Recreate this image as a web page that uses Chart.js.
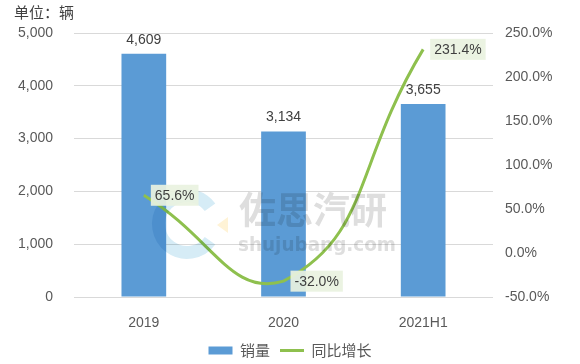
<!DOCTYPE html>
<html lang="zh">
<head>
  <meta charset="UTF-8">
  <title>销量与同比增长</title>
  <style>
    html, body { margin: 0; padding: 0; background: #fff; }
    #wrap { width: 580px; height: 364px; position: relative; }
  </style>
</head>
<body>
  <div id="wrap"><canvas id="chart"></canvas></div>

  <script src="https://cdn.jsdelivr.net/npm/chart.js"></script>
  <script>
    const categories = ['2019', '2020', '2021H1'];
    const sales = [4609, 3134, 3655];
    const growth = [65.6, -32.0, 231.4];
    const leftTicks = [0, 1000, 2000, 3000, 4000, 5000];
    const rightTicks = [-50, 0, 50, 100, 150, 200, 250];

    const fontLatin = '"Liberation Sans", Arial, "Noto Sans CJK SC", sans-serif';
    const fontCJK = '"Noto Sans CJK SC", "Liberation Sans", sans-serif';
    const textColor = '#595959';
    const barColor = '#5B9BD5';
    const lineColor = '#8EC04E';

    // faint watermark, blended over the marks
    const watermark = {
      id: 'watermark',
      afterDatasetsDraw(chart) {
        const ctx = chart.ctx;
        ctx.save();
        ctx.globalCompositeOperation = 'multiply';
        ctx.strokeStyle = '#D6ECF6';
        ctx.lineWidth = 13;
        ctx.beginPath();
        ctx.arc(187, 224, 28.5, 0.2 * Math.PI, 1.8 * Math.PI);
        ctx.stroke();
        ctx.fillStyle = '#FFF3D6';
        ctx.beginPath();
        ctx.moveTo(217, 225); ctx.lineTo(228, 217); ctx.lineTo(228, 233);
        ctx.closePath(); ctx.fill();
        ctx.fillStyle = '#DEDEDE';
        ctx.textAlign = 'left';
        ctx.textBaseline = 'middle';
        ctx.font = 'bold 37px ' + fontCJK;
        ctx.fillText('佐思汽研', 239, 210);
        ctx.font = 'bold 20px "DejaVu Sans", sans-serif';
        const w = ctx.measureText('shujubang.com').width;
        ctx.translate(238, 246);
        ctx.scale(158 / w, 1);
        ctx.fillText('shujubang.com', 0, 0);
        ctx.restore();
      }
    };

    // 单位 title and data labels
    const extras = {
      id: 'extras',
      afterDraw(chart) {
        const ctx = chart.ctx;
        ctx.save();

        ctx.fillStyle = '#404040';
        ctx.font = '15px ' + fontCJK;
        ctx.textAlign = 'left';
        ctx.textBaseline = 'middle';
        ctx.fillText('单位：辆', 14, 12);

        // bar labels
        ctx.font = '14px ' + fontLatin;
        ctx.textAlign = 'center';
        chart.getDatasetMeta(0).data.forEach((bar, i) => {
          ctx.fillText(sales[i].toLocaleString('en-US'), bar.x, bar.y - 14);
        });

        // line labels with boxes
        ctx.textAlign = 'left';
        chart.getDatasetMeta(1).data.forEach((pt, i) => {
          const txt = growth[i].toFixed(1) + '%';
          const tw = ctx.measureText(txt).width;
          const bx = pt.x + 7, by = pt.y - 10.5;
          ctx.fillStyle = 'rgba(233, 242, 224, 0.92)';
          ctx.fillRect(bx, by, tw + 8, 21);
          ctx.fillStyle = '#404040';
          ctx.fillText(txt, bx + 4, pt.y + 0.5);
        });
        ctx.restore();
      }
    };

    new Chart(document.getElementById('chart'), {
      data: {
        labels: categories,
        datasets: [
          {
            type: 'bar',
            label: '销量',
            data: sales,
            backgroundColor: barColor,
            borderWidth: 0,
            yAxisID: 'y',
            barPercentage: 0.32,
            categoryPercentage: 1,
            pointStyle: 'rect',
            order: 2
          },
          {
            type: 'line',
            label: '同比增长',
            data: growth,
            borderColor: lineColor,
            backgroundColor: lineColor,
            borderWidth: 3,
            pointRadius: 0,
            pointStyle: 'line',
            tension: 0.5,
            yAxisID: 'y1',
            order: 1
          }
        ]
      },
      options: {
        responsive: true,
        maintainAspectRatio: false,
        animation: false,
        layout: { padding: { top: 33, left: 0, right: 0, bottom: -4 } },
        plugins: {
          tooltip: { enabled: false },
          legend: {
            position: 'bottom',
            labels: {
              usePointStyle: true,
              pointStyleWidth: 24,
              boxHeight: 8,
              padding: 10,
              color: textColor,
              font: { size: 15, family: fontCJK },
              sort: (a, b) => a.datasetIndex - b.datasetIndex
            }
          }
        },
        scales: {
          x: {
            grid: { display: false },
            border: { display: false },
            ticks: { color: textColor, padding: 10, font: { size: 14, family: fontLatin } },
            afterFit(s) { s.height = 36; s.paddingLeft = 0; s.paddingRight = 0; }
          },
          y: {
            position: 'left',
            min: 0, max: 5000,
            afterBuildTicks(s) { s.ticks = leftTicks.map(v => ({ value: v })); },
            grid: { color: '#D9D9D9', drawTicks: false },
            border: { display: false },
            ticks: {
              color: textColor, padding: 21,
              font: { size: 14, family: fontLatin },
              callback: v => v.toLocaleString('en-US')
            },
            afterFit(s) { s.width = 74; s.paddingTop = 0; s.paddingBottom = 0; }
          },
          y1: {
            position: 'right',
            min: -50, max: 250,
            afterBuildTicks(s) { s.ticks = rightTicks.map(v => ({ value: v })); },
            grid: { display: false, drawTicks: false },
            border: { display: false },
            ticks: {
              color: textColor, padding: 12,
              font: { size: 14, family: fontLatin },
              callback: v => v.toFixed(1) + '%'
            },
            afterFit(s) { s.width = 87; s.paddingTop = 0; s.paddingBottom = 0; }
          }
        }
      },
      plugins: [watermark, extras]
    });
  </script>
</body>
</html>
